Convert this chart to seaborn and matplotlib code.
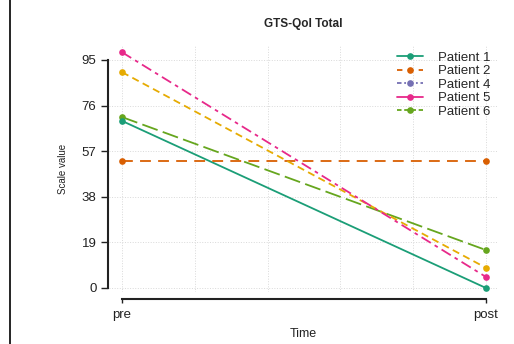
import matplotlib
matplotlib.use("Agg")
import matplotlib.pyplot as plt
from matplotlib.lines import Line2D
import seaborn as sns
import pandas as pd

times = ["pre", "post"]
patients = ["Patient 1", "Patient 2", "Patient 3", "Patient 4", "Patient 5", "Patient 6"]
pre_values = [69.6, 52.9, 89.9, None, 98.2, 71.2]
post_values = [0.0, 52.9, 8.4, None, 4.6, 15.8]
legend_patients = ["Patient 1", "Patient 2", "Patient 4", "Patient 5", "Patient 6"]
yticks = [0, 19, 38, 57, 76, 95]

colors = {"Patient 1": "#1B9E77", "Patient 2": "#D95F02", "Patient 3": "#E6AB02",
          "Patient 4": "#7570B3", "Patient 5": "#E7298A", "Patient 6": "#66A61E"}
dashes = {"Patient 1": (None, None), "Patient 2": (6, 4), "Patient 3": (4, 2.5),
          "Patient 4": (5, 2, 1.5, 2), "Patient 5": (6, 2.5, 2, 2.5), "Patient 6": (9, 3)}
legend_dashes = {"Patient 1": "-", "Patient 2": (0, (3, 3)), "Patient 4": (0, (2.5, 1.5, 1, 1.5)),
                 "Patient 5": "-", "Patient 6": (0, (2.5, 1.5))}

rows = []
for p, a, b in zip(patients, pre_values, post_values):
    if a is None:
        continue
    rows.append({"Patient": p, "Time": 0, "Value": a})
    rows.append({"Patient": p, "Time": 1, "Value": b})
df = pd.DataFrame(rows)

sns.set_style("white")
plt.rcParams["font.family"] = ["Liberation Sans", "DejaVu Sans"]

fig = plt.figure(figsize=(5.14, 3.44), dpi=100)
W, H = 514, 344
ax = fig.add_axes([109 / W, 1 - 292 / H, (498 - 109) / W, (292 - 46) / H])

for p in ["Patient 6", "Patient 1", "Patient 2", "Patient 3", "Patient 5"]:
    sub = df[df["Patient"] == p]
    sns.lineplot(data=sub, x="Time", y="Value", ax=ax, color=colors[p], lw=1.3,
                 marker="o", markersize=4.8, markeredgewidth=0, legend=False)
    line = ax.lines[-1]
    d = dashes[p]
    if d[0] is not None:
        line.set_dashes(d)

ax.set_xlim(-0.0357, 1.033)
ax.set_ylim(-1.67, 100.8)
ax.set_yticks(yticks)
ax.set_xticks([0, 1])
ax.set_xticklabels(times)
ax.set_xticks([0.2, 0.4, 0.6, 0.8], minor=True)
ax.grid(True, which="both", color="#d9d9d9", linestyle=":", linewidth=0.7)
ax.set_axisbelow(True)

for s in ["top", "right"]:
    ax.spines[s].set_visible(False)
ax.spines["left"].set_bounds(0, 95)
ax.spines["left"].set_position(("outward", 1))
ax.spines["bottom"].set_bounds(0, 1)
ax.spines["bottom"].set_position(("outward", 5))
for s in ["left", "bottom"]:
    ax.spines[s].set_edgecolor("#222222")
    ax.spines[s].set_linewidth(1.5)

ax.tick_params(axis="y", which="major", length=5, width=1, color="#222222",
               labelsize=9.5, labelcolor="#222222", pad=3, left=True)
ax.tick_params(axis="x", which="major", length=3, width=1, color="#222222",
               labelsize=9.5, labelcolor="#222222", pad=4, bottom=True)
ax.tick_params(axis="x", which="minor", length=0)

ax.set_xlabel("Time", fontsize=9, color="#222222", labelpad=5)
ax.set_ylabel("Scale value", fontsize=7, color="#222222", labelpad=10)
ax.set_title("GTS-Qol Total", fontsize=8.5, fontweight="bold", pad=14)

handles = [Line2D([0], [0], color=colors[p], linestyle=legend_dashes[p], lw=1.3,
                  marker="o", markersize=4.8, markeredgewidth=0) for p in legend_patients]
leg = ax.legend(handles, legend_patients, loc="upper right", bbox_to_anchor=(1.0, 1.01),
                frameon=False, fontsize=9.5, handlelength=2.0, labelspacing=0.1,
                handletextpad=1.1, borderaxespad=0.2)

fig.add_artist(Line2D([10 / W, 10 / W], [0, 1], color="black", lw=1.2,
                      transform=fig.transFigure))

fig.savefig("out.png", dpi=100)
